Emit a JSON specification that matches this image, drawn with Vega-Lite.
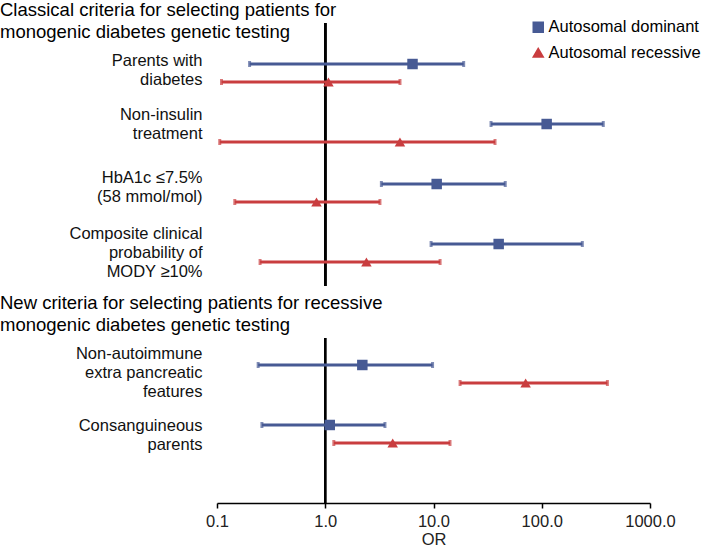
{
  "$schema": "https://vega.github.io/schema/vega-lite/v6.json",
  "padding": {"left": 0, "top": 1, "right": 0, "bottom": 0},
  "config": {
    "view": {"stroke": null},
    "font": "Liberation Sans",
    "text": {"font": "Liberation Sans"},
    "legend": {"title": null, "orient": "none", "legendX": 313, "legendY": -4, "labelFontSize": 16.5, "labelFont": "Liberation Sans", "labelColor": "#000", "rowPadding": 8.5, "labelOffset": 2, "symbolSize": 100, "symbolOpacity": 1, "labelLimit": 300, "padding": 0}
  },
  "datasets": {
    "classical": [
      {"label": "Parents with|diabetes", "series": "Autosomal dominant", "or": 6.4, "lo": 0.2, "hi": 19},
      {"label": "Parents with|diabetes", "series": "Autosomal recessive", "or": 1.07, "lo": 0.11, "hi": 4.9},
      {"label": "Non-insulin|treatment", "series": "Autosomal dominant", "or": 111, "lo": 34, "hi": 370},
      {"label": "Non-insulin|treatment", "series": "Autosomal recessive", "or": 4.9, "lo": 0.106, "hi": 37},
      {"label": "HbA1c ≤7.5%|(58 mmol/mol)", "series": "Autosomal dominant", "or": 10.7, "lo": 3.3, "hi": 46},
      {"label": "HbA1c ≤7.5%|(58 mmol/mol)", "series": "Autosomal recessive", "or": 0.83, "lo": 0.146, "hi": 3.2},
      {"label": "Composite clinical|probability of|MODY ≥10%", "series": "Autosomal dominant", "or": 40, "lo": 9.5, "hi": 237},
      {"label": "Composite clinical|probability of|MODY ≥10%", "series": "Autosomal recessive", "or": 2.4, "lo": 0.25, "hi": 11.5}
    ],
    "newcrit": [
      {"label": "Non-autoimmune|extra pancreatic|features", "series": "Autosomal dominant", "or": 2.2, "lo": 0.24, "hi": 9.8},
      {"label": "Non-autoimmune|extra pancreatic|features", "series": "Autosomal recessive", "or": 71, "lo": 17.6, "hi": 404},
      {"label": "Consanguineous|parents", "series": "Autosomal dominant", "or": 1.1, "lo": 0.26, "hi": 3.56},
      {"label": "Consanguineous|parents", "series": "Autosomal recessive", "or": 4.2, "lo": 1.2, "hi": 14.2}
    ]
  },
  "spacing": 7,
  "vconcat": [
    {
      "title": {
        "text": ["Classical criteria for selecting patients for", "monogenic diabetes genetic testing"],
        "anchor": "start", "frame": "bounds", "fontSize": 18.5, "fontWeight": "normal",
        "lineHeight": 22, "offset": -19.5, "color": "#000", "font": "Liberation Sans"
      },
      "width": 433,
      "height": 263,
      "data": {"name": "classical"},
      "layer": [
        {
          "mark": {"type": "rule", "color": "#000", "strokeWidth": 2},
          "encoding": {
            "x": {"datum": 1, "type": "quantitative", "scale": {"type": "log", "domain": [0.1, 1000], "nice": false}, "axis": null}
          }
        },
        {
          "mark": {"type": "rule", "strokeWidth": 3},
          "encoding": {
            "x": {"field": "lo", "type": "quantitative"},
            "x2": {"field": "hi"},
            "y": {"field": "label", "type": "nominal", "sort": null,
              "scale": {"paddingInner": 0, "paddingOuter": 0.1917, "align": 0.87},
              "axis": {"title": null, "ticks": false, "domain": false, "labelExpr": "split(datum.label, '|')",
                "labelFontSize": 16.5, "labelLineHeight": 19, "labelPadding": 15, "labelAlign": "right",
                "labelBaseline": "middle", "minExtent": 217, "maxExtent": 217, "labelLimit": 0, "labelColor": "#111", "labelFont": "Liberation Sans",
                "labelOffset": {"condition": [
                  {"test": "datum.value == 'Parents with|diabetes'", "value": -12},
                  {"test": "datum.value == 'Non-insulin|treatment'", "value": -18},
                  {"test": "datum.value == 'HbA1c ≤7.5%|(58 mmol/mol)'", "value": -15}
                ], "value": -19}}},
            "yOffset": {"field": "series", "type": "nominal", "sort": ["Autosomal dominant", "Autosomal recessive"], "scale": {"paddingInner": 0, "paddingOuter": 0.667}},
            "color": {"field": "series", "type": "nominal", "scale": {"domain": ["Autosomal dominant", "Autosomal recessive"], "range": ["#475a94", "#c93d3f"]}}
          }
        },
        {
          "mark": {"type": "tick", "thickness": 3, "size": 6},
          "encoding": {
            "x": {"field": "lo", "type": "quantitative"},
            "y": {"field": "label", "type": "nominal", "sort": null},
            "yOffset": {"field": "series", "type": "nominal", "sort": ["Autosomal dominant", "Autosomal recessive"]},
            "color": {"field": "series", "type": "nominal"}
          }
        },
        {
          "mark": {"type": "tick", "thickness": 3, "size": 6},
          "encoding": {
            "x": {"field": "hi", "type": "quantitative"},
            "y": {"field": "label", "type": "nominal", "sort": null},
            "yOffset": {"field": "series", "type": "nominal", "sort": ["Autosomal dominant", "Autosomal recessive"]},
            "color": {"field": "series", "type": "nominal"}
          }
        },
        {
          "mark": {"type": "point", "filled": true, "opacity": 1, "size": 110},
          "encoding": {
            "x": {"field": "or", "type": "quantitative"},
            "y": {"field": "label", "type": "nominal", "sort": null},
            "yOffset": {"field": "series", "type": "nominal", "sort": ["Autosomal dominant", "Autosomal recessive"]},
            "color": {"field": "series", "type": "nominal"},
            "shape": {"field": "series", "type": "nominal", "scale": {"domain": ["Autosomal dominant", "Autosomal recessive"], "range": ["square", "triangle-up"]}}
          }
        }
      ]
    },
    {
      "title": {
        "text": ["New criteria for selecting patients for recessive", "monogenic diabetes genetic testing"],
        "anchor": "start", "frame": "bounds", "fontSize": 18.5, "fontWeight": "normal",
        "lineHeight": 22, "offset": 2.5, "color": "#000", "font": "Liberation Sans"
      },
      "width": 433,
      "height": 165,
      "data": {"name": "newcrit"},
      "layer": [
        {
          "mark": {"type": "rule", "color": "#000", "strokeWidth": 2},
          "encoding": {
            "x": {"datum": 1, "type": "quantitative", "scale": {"type": "log", "domain": [0.1, 1000], "nice": false},
              "axis": {"values": [0.1, 1, 10, 100, 1000], "format": ".1f", "title": "OR", "grid": false,
                "domainColor": "#000", "domainWidth": 1.5, "tickColor": "#000", "tickWidth": 1.5, "tickSize": 5,
                "labelFontSize": 16.5, "titleFontSize": 16.5, "titleFontWeight": "normal", "labelColor": "#222", "titleColor": "#222",
                "labelPadding": 5, "titlePadding": 2, "labelFont": "Liberation Sans", "titleFont": "Liberation Sans", "labelFlush": false}}
          }
        },
        {
          "mark": {"type": "rule", "strokeWidth": 3},
          "encoding": {
            "x": {"field": "lo", "type": "quantitative"},
            "x2": {"field": "hi"},
            "y": {"field": "label", "type": "nominal", "sort": null,
              "scale": {"paddingInner": 0, "paddingOuter": 0.375, "align": 0.133},
              "axis": {"title": null, "ticks": false, "domain": false, "labelExpr": "split(datum.label, '|')",
                "labelFontSize": 16.5, "labelLineHeight": 19, "labelPadding": 15, "labelAlign": "right",
                "labelBaseline": "middle", "minExtent": 217, "maxExtent": 217, "labelLimit": 0, "labelColor": "#111", "labelFont": "Liberation Sans",
                "labelOffset": {"condition": {"test": "datum.value == 'Consanguineous|parents'", "value": -8}, "value": -20}}},
            "yOffset": {"field": "series", "type": "nominal", "sort": ["Autosomal dominant", "Autosomal recessive"], "scale": {"paddingInner": 0, "paddingOuter": 0.667}},
            "color": {"field": "series", "type": "nominal", "scale": {"domain": ["Autosomal dominant", "Autosomal recessive"], "range": ["#475a94", "#c93d3f"]}}
          }
        },
        {
          "mark": {"type": "tick", "thickness": 3, "size": 6},
          "encoding": {
            "x": {"field": "lo", "type": "quantitative"},
            "y": {"field": "label", "type": "nominal", "sort": null},
            "yOffset": {"field": "series", "type": "nominal", "sort": ["Autosomal dominant", "Autosomal recessive"]},
            "color": {"field": "series", "type": "nominal"}
          }
        },
        {
          "mark": {"type": "tick", "thickness": 3, "size": 6},
          "encoding": {
            "x": {"field": "hi", "type": "quantitative"},
            "y": {"field": "label", "type": "nominal", "sort": null},
            "yOffset": {"field": "series", "type": "nominal", "sort": ["Autosomal dominant", "Autosomal recessive"]},
            "color": {"field": "series", "type": "nominal"}
          }
        },
        {
          "mark": {"type": "point", "filled": true, "opacity": 1, "size": 110},
          "encoding": {
            "x": {"field": "or", "type": "quantitative"},
            "y": {"field": "label", "type": "nominal", "sort": null},
            "yOffset": {"field": "series", "type": "nominal", "sort": ["Autosomal dominant", "Autosomal recessive"]},
            "color": {"field": "series", "type": "nominal"},
            "shape": {"field": "series", "type": "nominal", "scale": {"domain": ["Autosomal dominant", "Autosomal recessive"], "range": ["square", "triangle-up"]}}
          }
        }
      ]
    }
  ]
}
